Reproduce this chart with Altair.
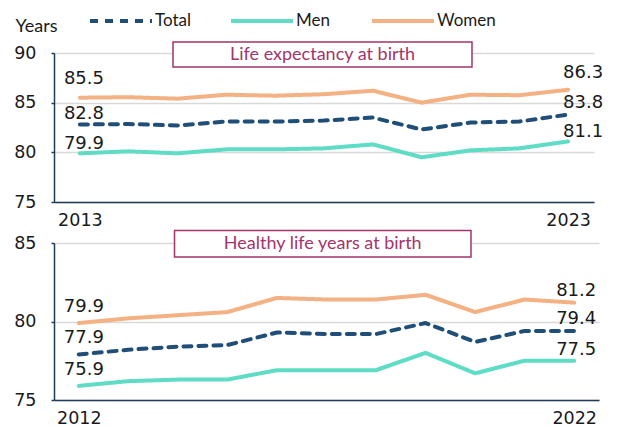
import altair as alt
import pandas as pd

series = ["Total", "Men", "Women"]
colors = ["#1f4e79", "#5fdcc5", "#f4b183"]
dashes = [[8, 7], [1, 0], [1, 0]]

le_years = ["2013", "2014", "2015", "2016", "2017", "2018", "2019", "2020", "2021", "2022", "2023"]
le_total = [82.8, 82.85, 82.7, 83.1, 83.1, 83.2, 83.5, 82.3, 83.0, 83.1, 83.8]
le_men = [79.9, 80.1, 79.9, 80.3, 80.3, 80.4, 80.8, 79.5, 80.2, 80.4, 81.1]
le_women = [85.5, 85.55, 85.4, 85.8, 85.7, 85.85, 86.2, 85.0, 85.8, 85.75, 86.3]

hly_years = ["2012", "2013", "2014", "2015", "2016", "2017", "2018", "2019", "2020", "2021", "2022"]
hly_total = [77.9, 78.2, 78.4, 78.5, 79.3, 79.2, 79.2, 79.9, 78.7, 79.4, 79.4]
hly_men = [75.9, 76.2, 76.3, 76.3, 76.9, 76.9, 76.9, 78.0, 76.7, 77.5, 77.5]
hly_women = [79.9, 80.2, 80.4, 80.6, 81.5, 81.4, 81.4, 81.7, 80.6, 81.4, 81.2]

le_ticks = [75, 80, 85, 90]
hly_ticks = [75, 80, 85]
titles = ["Life expectancy at birth", "Healthy life years at birth"]

AX = "#1f3b5a"
MAR = "#a3356a"
TXT = "#1a1a1a"


def long_df(years, total, men, women):
    rows = []
    for s, vals in zip(series, [total, men, women]):
        for yr, v in zip(years, vals):
            rows.append({"year": yr, "value": v, "series": s})
    return pd.DataFrame(rows)


def panel(df, years, ticks, title, w, h, xpad, box, ldx, rdx, ldy, rdy, legend, ytitle):
    x = alt.X("year:O", sort=years,
              scale=alt.Scale(type="point", padding=xpad),
              axis=alt.Axis(values=[years[0], years[-1]], labelAngle=0, ticks=False,
                            title=None, labelFont="DejaVu Sans", labelFontSize=17.5,
                            labelColor=TXT, labelPadding=9, domainColor=AX,
                            domainWidth=1.5, grid=False))
    yaxis_kw = dict(values=ticks, grid=True, gridColor="#d9d9d9", gridWidth=1.5,
                    tickSize=3, tickColor=AX, tickWidth=1.5, domainColor=AX, domainWidth=1.5,
                    labelFont="DejaVu Sans", labelFontSize=17.5, labelColor=TXT,
                    labelPadding=15)
    if ytitle:
        yaxis_kw.update(title=ytitle, titleAngle=0, titleX=-39, titleY=-21.5,
                        titleAlign="left", titleBaseline="alphabetic", titleFont="Lato",
                        titleFontSize=18, titleFontWeight="normal", titleColor=TXT)
    else:
        yaxis_kw.update(title=None)
    y = alt.Y("value:Q", scale=alt.Scale(domain=[ticks[0], ticks[-1]], nice=False, zero=False),
              axis=alt.Axis(**yaxis_kw))
    if legend:
        leg = alt.Legend(orient="none", legendX=34, legendY=-65, direction="horizontal",
                         title=None, symbolType="stroke", symbolSize=3844,
                         symbolStrokeWidth=4, labelFont="Lato", labelFontSize=17,
                         labelColor=TXT, labelOffset=1, columnPadding=9, gridAlign="all",
                         zindex=1)
    else:
        leg = None
    color = alt.Color("series:N", sort=series, scale=alt.Scale(domain=series, range=colors),
                      legend=leg)
    dash = alt.StrokeDash("series:N", sort=series, scale=alt.Scale(domain=series, range=dashes),
                          legend=leg)
    base = alt.Chart(df)
    lines = base.mark_line(strokeWidth=4, strokeCap="round", strokeJoin="round").encode(
        x=x, y=y, color=color, strokeDash=dash, order=alt.Order("year:O"))
    layers = [lines]
    for s in series:
        layers.append(
            base.transform_filter((alt.datum.series == s) & (alt.datum.year == years[0]))
            .mark_text(align="left", baseline="middle", dx=ldx, dy=ldy[s],
                       font="DejaVu Sans", fontSize=18, color=TXT)
            .encode(x=x, y=y, text=alt.Text("value:Q", format=".1f")))
        layers.append(
            base.transform_filter((alt.datum.series == s) & (alt.datum.year == years[-1]))
            .mark_text(align="right", baseline="middle", dx=rdx, dy=rdy[s],
                       font="DejaVu Sans", fontSize=18, color=TXT)
            .encode(x=x, y=y, text=alt.Text("value:Q", format=".1f")))
    tdf = pd.DataFrame({"t": [title]})
    layers.append(alt.Chart(tdf).mark_rect(fill="white", stroke=MAR, strokeWidth=1.5).encode(
        x=alt.value(box[0]), x2=alt.value(box[1]), y=alt.value(box[2]), y2=alt.value(box[3])))
    layers.append(alt.Chart(tdf).mark_text(align="center", baseline="middle", font="Lato",
                                           fontSize=18, color=MAR).encode(
        x=alt.value((box[0] + box[1]) / 2), y=alt.value((box[2] + box[3]) / 2 + 0.5),
        text="t:N"))
    return alt.layer(*layers).properties(width=w, height=h)


top = panel(long_df(le_years, le_total, le_men, le_women), le_years, le_ticks, titles[0],
            540, 149, 0.53, (119, 418, -11, 14), -16, 35,
            {"Total": -11, "Men": -9.5, "Women": -18.5},
            {"Total": -12, "Men": -9, "Women": -17}, True, "Years")
bottom = panel(long_df(hly_years, hly_total, hly_men, hly_women), hly_years, hly_ticks, titles[1],
               545, 157, 0.5, (120.5, 417, -12.5, 14), -15, 22,
               {"Total": -16, "Men": -16, "Women": -16},
               {"Total": -12, "Men": -10.5, "Women": -12}, False, None)

chart = (alt.vconcat(top, bottom, spacing=41, bounds="flush")
         .resolve_scale(x="independent", y="independent")
         .resolve_legend(color="independent", strokeDash="independent")
         .configure_view(stroke=None)
         .properties(padding={"left": 5, "top": -20, "right": 5, "bottom": 0}))

chart.save("out.html", embed_options={"renderer": "svg", "actions": False})
